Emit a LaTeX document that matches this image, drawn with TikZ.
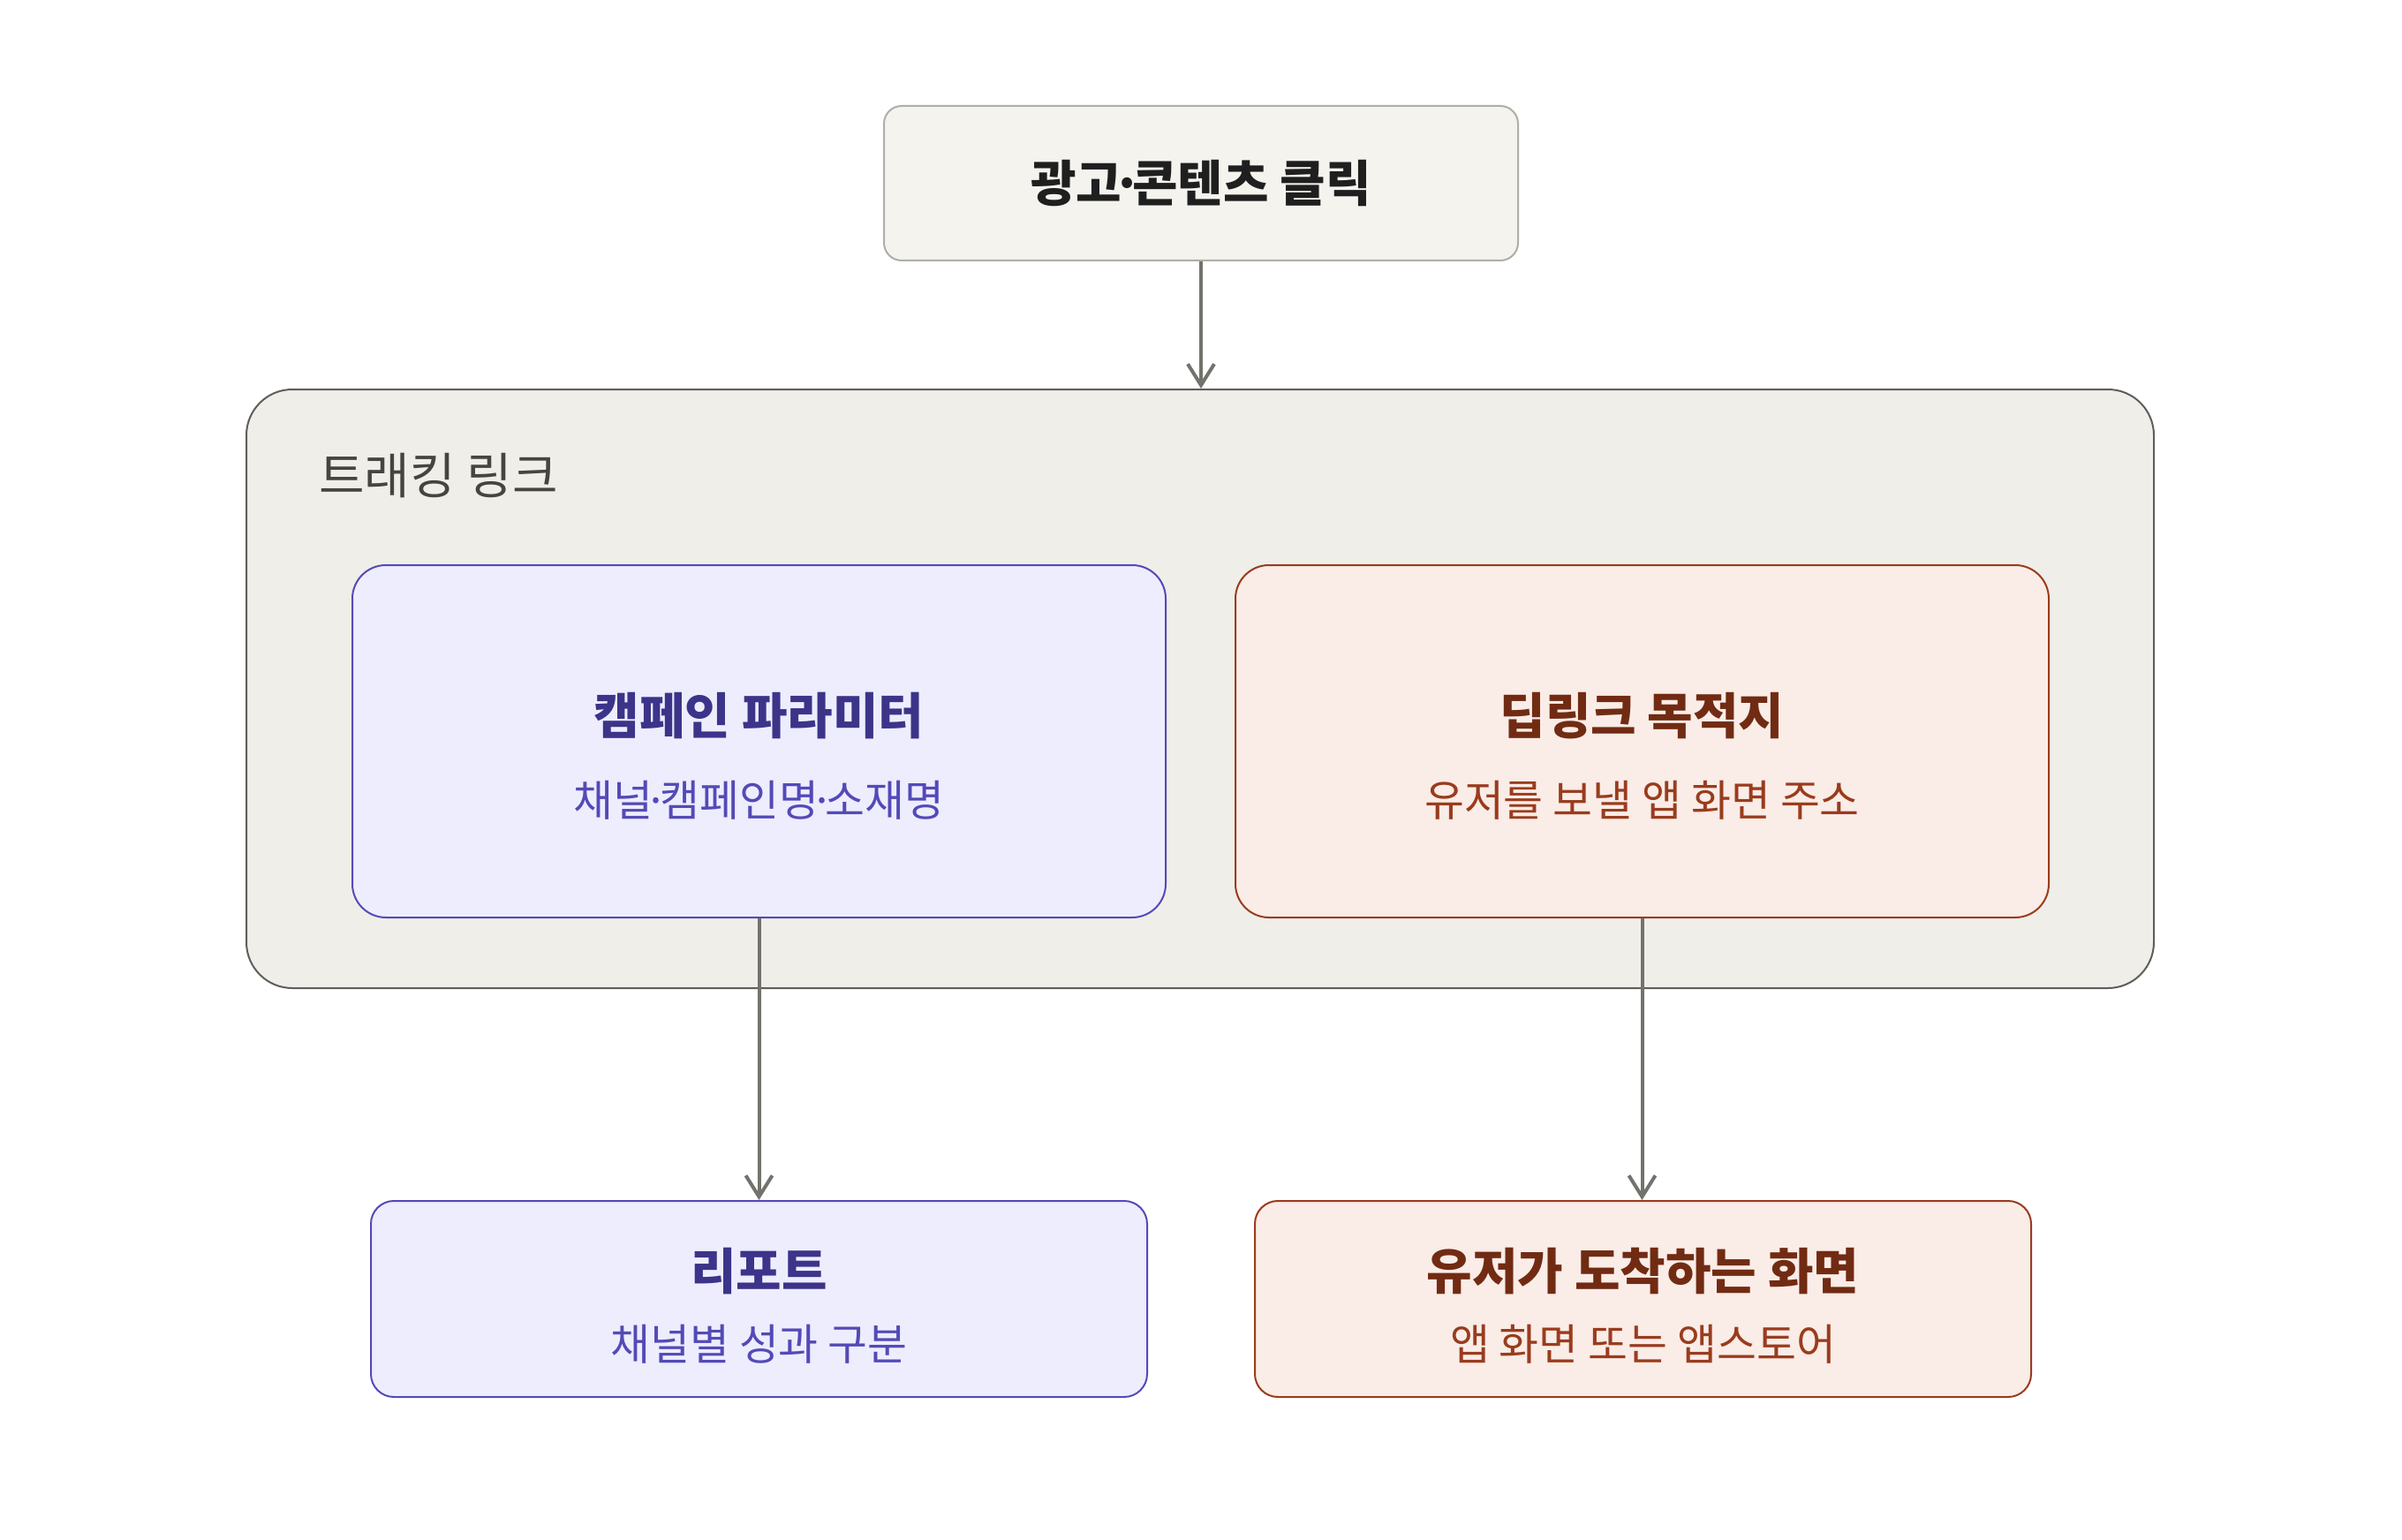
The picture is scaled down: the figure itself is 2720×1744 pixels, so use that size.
\documentclass[tikz,border=0pt]{standalone}
\usepackage{fontspec}
\setmainfont{Noto Sans CJK KR}
\usetikzlibrary{arrows.meta}
\definecolor{topfill}{HTML}{F4F3EE}
\definecolor{topdraw}{HTML}{B0AEA8}
\definecolor{toptext}{HTML}{1F1F1F}
\definecolor{contfill}{HTML}{EFEEE9}
\definecolor{contdraw}{HTML}{5F5E5A}
\definecolor{conttext}{HTML}{444441}
\definecolor{pfill}{HTML}{EEEDFE}
\definecolor{pdraw}{HTML}{534AB7}
\definecolor{ptitle}{HTML}{3C3489}
\definecolor{psub}{HTML}{534AB7}
\definecolor{ofill}{HTML}{FAECE7}
\definecolor{odraw}{HTML}{993C1D}
\definecolor{otitle}{HTML}{712B13}
\definecolor{osub}{HTML}{993C1D}
\definecolor{arrowc}{HTML}{73726C}
\newcommand{\mdot}{\kern-0.2em·\kern-0.2em}
\begin{document}
\begin{tikzpicture}[x=0.5pt,y=-0.5pt,
  boxbase/.style={rectangle, inner sep=0pt, line width=1pt},
  topbox/.style={boxbase, fill=topfill, draw=topdraw, rounded corners=10pt, minimum width=359pt, minimum height=87.5pt},
  contbox/.style={boxbase, fill=contfill, draw=contdraw, rounded corners=26pt, minimum width=1080pt, minimum height=339pt},
  pbox/.style={boxbase, fill=pfill, draw=pdraw},
  obox/.style={boxbase, fill=ofill, draw=odraw},
  innerbox/.style={rounded corners=19pt, minimum width=460.5pt, minimum height=199.5pt},
  lowbox/.style={rounded corners=13pt, minimum width=439.5pt, minimum height=111pt},
  titletext/.style={anchor=base, inner sep=0pt, font=\fontsize{28pt}{32pt}\selectfont\bfseries},
  subtext/.style={anchor=base, inner sep=0pt, font=\fontsize{24.4pt}{28pt}\selectfont},
  flow/.style={draw=arrowc, line width=2pt, -{Straight Barb[length=12pt,width=15pt,line width=2pt]}}
]
\useasboundingbox[fill=white] (0,0) rectangle (2720,1744);

% top box
\node[topbox] (click) at (1360,207.5) {};
\node[titletext, text=toptext] (clickT) at (1360,229) {광고\mdot 콘텐츠 클릭};

% container
\node[contbox] (track) at (1359,780) {};
\node[anchor=base west, inner sep=0pt, font=\fontsize{28pt}{32pt}\selectfont, text=conttext] (trackT) at (361,559) {트래킹 링크};

% inner boxes
\node[pbox, innerbox] (camp) at (859.5,839.5) {};
\node[titletext, text=ptitle] (campT) at (859.5,831) {캠페인 파라미터};
\node[subtext, text=psub] (campS) at (859.5,924) {채널\mdot 캠페인명\mdot 소재명};

\node[obox, innerbox] (deep) at (1859.5,839.5) {};
\node[titletext, text=otitle] (deepT) at (1859.5,831) {딥링크 목적지};
\node[subtext, text=osub] (deepS) at (1859.5,924) {유저를 보낼 앱 화면 주소};

% bottom boxes
\node[pbox, lowbox] (report) at (859.5,1471) {};
\node[titletext, text=ptitle] (reportT) at (859.5,1460) {리포트};
\node[subtext, text=psub] (reportS) at (859.5,1540) {채널별 성과 구분};

\node[obox, lowbox] (land) at (1860.5,1471) {};
\node[titletext, text=otitle] (landT) at (1860.5,1460) {유저가 도착하는 화면};
\node[subtext, text=osub] (landS) at (1860.5,1540) {앱 화면 또는 앱스토어};

% arrows
\draw[flow] (click.south) -- (click.south |- track.north);
\draw[flow] (camp.south) -- (report.north);
\draw[flow] (deep.south) -- (deep.south |- land.north);
\end{tikzpicture}
\end{document}
